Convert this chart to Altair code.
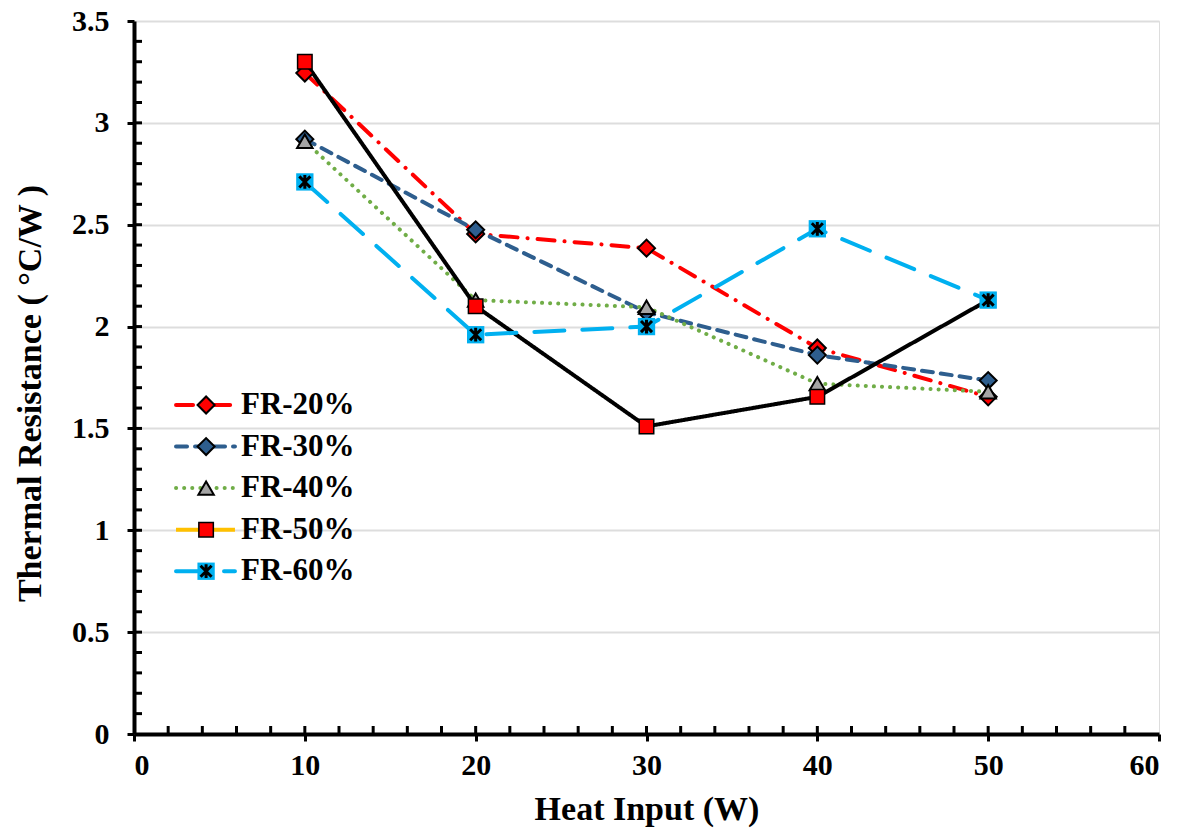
import altair as alt
import pandas as pd
import numpy as np

heat_input = [10, 20, 30, 40, 50]
series_names = ["FR-20%", "FR-30%", "FR-40%", "FR-50%", "FR-60%"]
fr20 = [3.245, 2.455, 2.385, 1.895, 1.655]
fr30 = [2.92, 2.475, 2.07, 1.86, 1.735]
fr40 = [2.91, 2.13, 2.095, 1.72, 1.68]
fr50 = [3.30, 2.10, 1.51, 1.655, 2.13]
fr60 = [2.71, 1.96, 2.00, 2.48, 2.13]
values = [fr20, fr30, fr40, fr50, fr60]

x_ticks = [0, 10, 20, 30, 40, 50, 60]
y_ticks = [0, 0.5, 1, 1.5, 2, 2.5, 3, 3.5]

# styles per series
line_colors = ["#FF0000", "#2E5E8E", "#70AD47", "#000000", "#00B0F0"]
legend_line_colors = ["#FF0000", "#2E5E8E", "#70AD47", "#FFC000", "#00B0F0"]
dashes = [[17, 10, 0.1, 10], [11, 8], [0.1, 8], [1, 0], [30, 18]]
caps = ["round", "round", "round", "butt", "round"]
shapes = ["diamond", "diamond", "triangle-up", "square", "square"]
fills = ["#FF0000", "#2E5E8E", "#A5A5A5", "#FF0000", "#00B0F0"]
sizes = [290, 290, 240, 210, 300]
stroke_w = [2, 2, 2, 1.5, 0]
ASTERISK = "M-0.8,-0.8L0.8,0.8M-0.8,0.8L0.8,-0.8M0,-1L0,1"

FONT = "Liberation Serif"
W, H = 1025, 713

xs = alt.Scale(domain=[0, 60], nice=False)
ys = alt.Scale(domain=[0, 3.5], nice=False)

x_enc = alt.X("x:Q", scale=xs, axis=alt.Axis(
    values=x_ticks, title="Heat Input (W)", grid=False,
    domainColor="black", domainWidth=4, tickColor="black", tickWidth=3, tickSize=7,
    labelFont=FONT, labelFontSize=30, labelFontWeight="bold", labelColor="black",
    labelPadding=9, titleFont=FONT, titleFontSize=34, titleFontWeight="bold",
    titleColor="black", titlePadding=12))
y_enc = alt.Y("y:Q", scale=ys, axis=alt.Axis(
    values=y_ticks, format="~g", title="Thermal Resistance ( °C/W )",
    grid=True, gridColor="#DDDDDD", gridWidth=2,
    domainColor="black", domainWidth=4, tickColor="black", tickWidth=3, tickSize=7,
    labelFont=FONT, labelFontSize=30, labelFontWeight="bold", labelColor="black",
    labelPadding=18, titleFont=FONT, titleFontSize=34, titleFontWeight="bold",
    titleColor="black", titlePadding=24, titleY=372))

layers = []

# inside minor/major tick marks
y_minor = pd.DataFrame({"y": np.round(np.arange(0.1, 3.5, 0.1), 2)})
x_minor = pd.DataFrame({"x": np.arange(2, 60, 2)})
layers.append(alt.Chart(y_minor).mark_rule(color="black", strokeWidth=3).encode(
    y=y_enc, x=alt.value(0), x2=alt.value(8)))
layers.append(alt.Chart(x_minor).mark_rule(color="black", strokeWidth=3).encode(
    x=x_enc, y=alt.value(H), y2=alt.value(H - 8)))

frames = [pd.DataFrame({"x": heat_input, "y": v, "series": n}) for n, v in zip(series_names, values)]

for i, df in enumerate(frames):
    layers.append(alt.Chart(df).mark_line(
        color=line_colors[i], strokeDash=dashes[i], strokeWidth=4,
        strokeCap=caps[i]).encode(x=x_enc, y=y_enc))

for i, df in enumerate(frames):
    layers.append(alt.Chart(df).mark_point(
        shape=shapes[i], filled=True, fill=fills[i], stroke="black",
        strokeWidth=stroke_w[i], size=sizes[i], opacity=1).encode(x=x_enc, y=y_enc))
    if i == 4:
        layers.append(alt.Chart(df).mark_point(
            shape=ASTERISK, filled=False, stroke="black", strokeWidth=3,
            size=190, opacity=1).encode(x=x_enc, y=y_enc))

# legend (inside plot, data units)
leg_top, leg_step = 1.615, 0.204
leg_x1, leg_x2, leg_xm, leg_xt = 2.46, 5.91, 4.22, 6.26
for i, name in enumerate(series_names):
    ry = leg_top - i * leg_step
    seg = pd.DataFrame({"x": [leg_x1, leg_x2], "y": [ry, ry]})
    layers.append(alt.Chart(seg).mark_line(
        color=legend_line_colors[i], strokeDash=dashes[i], strokeWidth=4,
        strokeCap=caps[i]).encode(x=x_enc, y=y_enc))
    pt = pd.DataFrame({"x": [leg_xm], "y": [ry], "label": [name]})
    layers.append(alt.Chart(pt).mark_point(
        shape=shapes[i], filled=True, fill=fills[i], stroke="black",
        strokeWidth=stroke_w[i], size=sizes[i], opacity=1).encode(x=x_enc, y=y_enc))
    if i == 4:
        layers.append(alt.Chart(pt).mark_point(
            shape=ASTERISK, filled=False, stroke="black", strokeWidth=3,
            size=190, opacity=1).encode(x=x_enc, y=y_enc))
    tx = pd.DataFrame({"x": [leg_xt], "y": [ry], "label": [name]})
    layers.append(alt.Chart(tx).mark_text(
        align="left", baseline="middle", font=FONT, fontSize=31, fontWeight="bold",
        color="black").encode(x=x_enc, y=y_enc, text="label:N"))

chart = alt.layer(*layers).properties(
    width=W, height=H,
    autosize=alt.AutoSizeParams(type="none"),
    padding={"left": 134, "top": 21, "right": 25, "bottom": 98},
).configure_view(stroke="black", strokeWidth=3).configure(background="white")

chart.save("out.html", embed_options={"renderer": "svg", "actions": False})
